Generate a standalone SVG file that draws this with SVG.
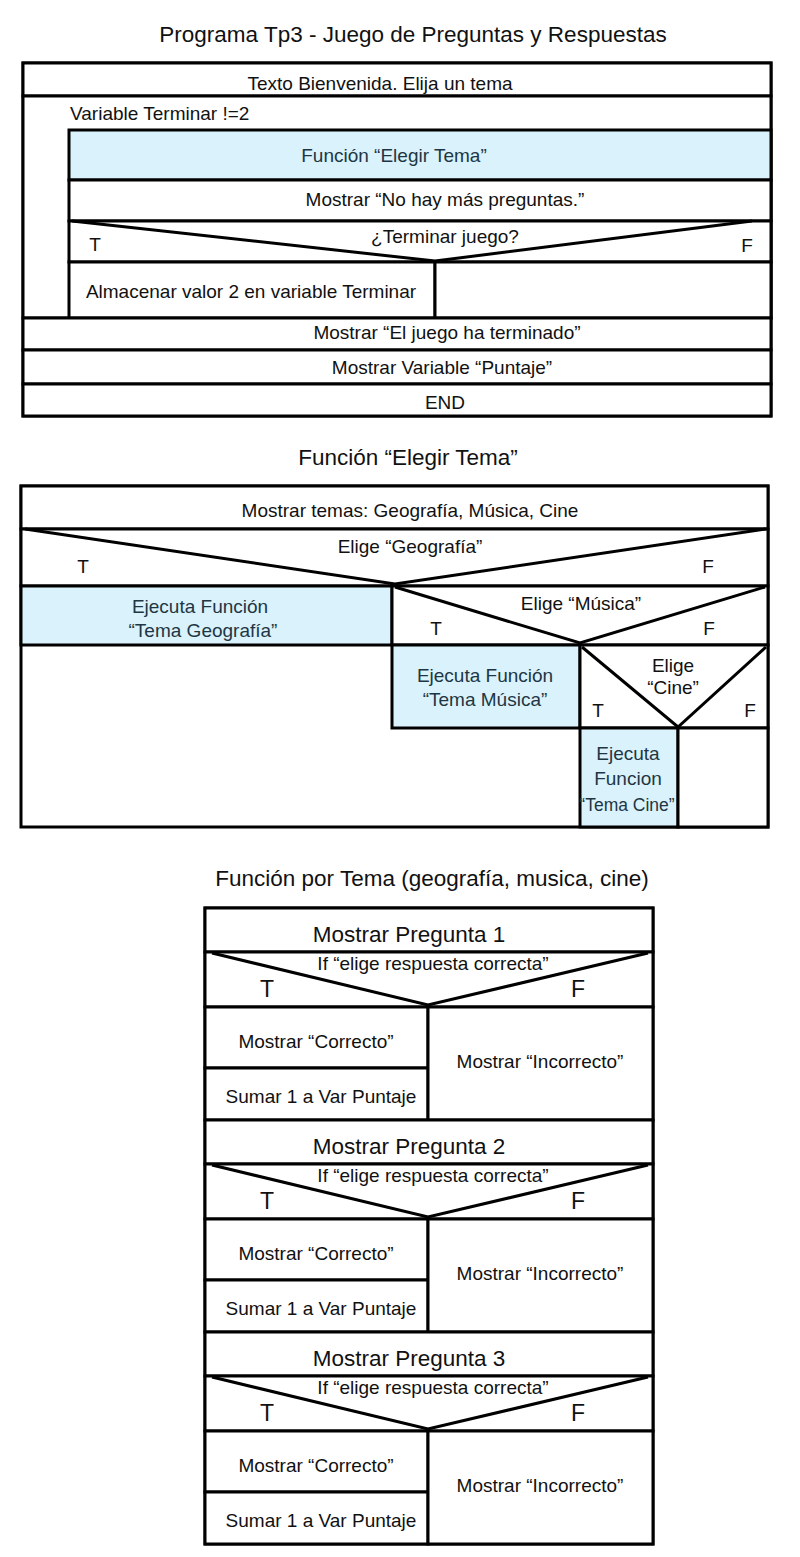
<svg xmlns="http://www.w3.org/2000/svg" width="800" height="1557" viewBox="0 0 800 1557">
<style>
text{font-family:"Liberation Sans",Arial,sans-serif;fill:#111;}
.t{font-size:19px;}
.c{text-anchor:middle;}
.title{font-size:22.5px;text-anchor:middle;}
.box{fill:#fff;stroke:#000;stroke-width:3;}
.blue{fill:#d9f2fb;stroke:#000;stroke-width:3;}
.bt{fill:#1e3644;}
.tri{fill:none;stroke:#000;stroke-width:3;stroke-linejoin:miter;}
.big{font-size:22.5px;}
.tf{font-size:23px;}
.ifq{font-size:19px;}
</style>
<rect width="800" height="1557" fill="#fff"/>

<!-- ===== Section 1 ===== -->
<text class="title" x="413" y="42">Programa Tp3 - Juego de Preguntas y Respuestas</text>
<g id="s1-frame"><rect class="box" x="23" y="63" width="748" height="353"/></g>
<g id="n-bienvenida">
<rect class="box" x="23" y="63" width="748" height="33"/>
<text class="t c" x="380" y="90">Texto Bienvenida. Elija un tema</text>
</g>
<g id="n-loop">
<rect class="box" x="23" y="96" width="748" height="222"/>
<text class="t" x="70" y="120">Variable Terminar !=2</text>
</g>
<g id="n-elegir-tema">
<rect class="blue" x="69" y="130" width="702" height="50"/>
<text class="t c bt" x="394" y="162">Función “Elegir Tema”</text>
</g>
<g id="n-no-hay">
<rect class="box" x="69" y="180" width="702" height="41"/>
<text class="t c" x="445" y="206">Mostrar “No hay más preguntas.”</text>
</g>
<g id="n-terminar">
<rect class="box" x="69" y="221" width="702" height="41"/>
<polyline class="tri" points="72,221 435,261 752,221"/>
<text class="t c" x="445" y="243">¿Terminar juego?</text>
<text class="t c" x="95" y="251">T</text>
<text class="t c" x="747" y="252">F</text>
</g>
<g id="n-almacenar">
<rect class="box" x="69" y="262" width="366" height="56"/>
<text class="t c" x="251" y="298">Almacenar valor 2 en variable Terminar</text>
</g>
<g id="n-falso-vacio"><rect class="box" x="435" y="262" width="336" height="56"/></g>
<g id="n-fin-juego">
<rect class="box" x="23" y="318" width="748" height="32"/>
<text class="t c" x="447" y="339">Mostrar “El juego ha terminado”</text>
</g>
<g id="n-mostrar-puntaje">
<rect class="box" x="23" y="350" width="748" height="34"/>
<text class="t c" x="442" y="374">Mostrar Variable “Puntaje”</text>
</g>
<g id="n-end">
<rect class="box" x="23" y="384" width="748" height="32"/>
<text class="t c" x="445" y="409">END</text>
</g>

<!-- ===== Section 2 ===== -->
<text class="title" x="408" y="465">Función “Elegir Tema”</text>
<g id="s2-frame"><rect class="box" x="21" y="486" width="747" height="341"/></g>
<g id="n-mostrar-temas">
<rect class="box" x="21" y="486" width="747" height="43"/>
<text class="t c" x="410" y="517">Mostrar temas: Geografía, Música, Cine</text>
</g>
<g id="n-elige-geo">
<rect class="box" x="21" y="529" width="747" height="57"/>
<polyline class="tri" points="25,529 395,584 766,529"/>
<text class="t c" x="410" y="553">Elige “Geografía”</text>
<text class="t c" x="83" y="573">T</text>
<text class="t c" x="708" y="573">F</text>
</g>
<g id="n-tema-geo">
<rect class="blue" x="21" y="586" width="371" height="59"/>
<text class="t c bt" x="200" y="613">Ejecuta Función</text>
<text class="t c bt" x="203" y="637">“Tema Geografía”</text>
</g>
<g id="n-elige-musica">
<rect class="box" x="392" y="586" width="376" height="59"/>
<polyline class="tri" points="395,587 580,643 765,587"/>
<text class="t c" x="581" y="610">Elige “Música”</text>
<text class="t c" x="436" y="635">T</text>
<text class="t c" x="709" y="635">F</text>
</g>
<g id="n-tema-musica">
<rect class="blue" x="392" y="645" width="188" height="83"/>
<text class="t c bt" x="485" y="682">Ejecuta Función</text>
<text class="t c bt" x="485" y="706">“Tema Música”</text>
</g>
<g id="n-elige-cine">
<rect class="box" x="580" y="645" width="188" height="83"/>
<polyline class="tri" points="582,647 678,727 766,647"/>
<text class="t c" x="673" y="672">Elige</text>
<text class="t c" x="673" y="694">“Cine”</text>
<text class="t c" x="598" y="717">T</text>
<text class="t c" x="750" y="717">F</text>
</g>
<g id="n-tema-cine">
<rect class="blue" x="580" y="728" width="98" height="99"/>
<text class="t c bt" x="628" y="760">Ejecuta</text>
<text class="t c bt" x="628" y="785">Funcion</text>
<text class="c bt" x="627" y="811" font-size="17.5">“Tema Cine”</text>
</g>
<g id="n-cine-falso"><rect class="box" x="678" y="728" width="90" height="99"/></g>

<!-- ===== Section 3 ===== -->
<text class="title" x="432" y="886" font-size="23.5">Función por Tema (geografía, musica, cine)</text>
<g id="s3-frame"><rect class="box" x="205" y="908" width="448" height="636"/></g>

<g id="n-pregunta-1">
<rect class="box" x="205" y="908" width="448" height="44"/>
<text class="big c" x="409" y="942">Mostrar Pregunta 1</text>
</g>
<g id="n-if-1">
<rect class="box" x="205" y="952" width="448" height="55"/>
<polyline class="tri" points="212,953 428,1005 648,953"/>
<text class="ifq c" x="433" y="970">If “elige respuesta correcta”</text>
<text class="tf c" x="267" y="997">T</text>
<text class="tf c" x="578" y="997">F</text>
</g>
<g id="n-correcto-1">
<rect class="box" x="205" y="1007" width="223" height="61"/>
<text class="t c" x="316" y="1048">Mostrar “Correcto”</text>
</g>
<g id="n-sumar-1">
<rect class="box" x="205" y="1068" width="223" height="52"/>
<text class="t c" x="321" y="1103">Sumar 1 a Var Puntaje</text>
</g>
<g id="n-incorrecto-1">
<rect class="box" x="428" y="1007" width="225" height="113"/>
<text class="t c" x="540" y="1068">Mostrar “Incorrecto”</text>
</g>

<g id="n-pregunta-2">
<rect class="box" x="205" y="1120" width="448" height="44"/>
<text class="big c" x="409" y="1154">Mostrar Pregunta 2</text>
</g>
<g id="n-if-2">
<rect class="box" x="205" y="1164" width="448" height="55"/>
<polyline class="tri" points="212,1165 428,1217 648,1165"/>
<text class="ifq c" x="433" y="1182">If “elige respuesta correcta”</text>
<text class="tf c" x="267" y="1209">T</text>
<text class="tf c" x="578" y="1209">F</text>
</g>
<g id="n-correcto-2">
<rect class="box" x="205" y="1219" width="223" height="61"/>
<text class="t c" x="316" y="1260">Mostrar “Correcto”</text>
</g>
<g id="n-sumar-2">
<rect class="box" x="205" y="1280" width="223" height="52"/>
<text class="t c" x="321" y="1315">Sumar 1 a Var Puntaje</text>
</g>
<g id="n-incorrecto-2">
<rect class="box" x="428" y="1219" width="225" height="113"/>
<text class="t c" x="540" y="1280">Mostrar “Incorrecto”</text>
</g>

<g id="n-pregunta-3">
<rect class="box" x="205" y="1332" width="448" height="44"/>
<text class="big c" x="409" y="1366">Mostrar Pregunta 3</text>
</g>
<g id="n-if-3">
<rect class="box" x="205" y="1376" width="448" height="55"/>
<polyline class="tri" points="212,1377 428,1429 648,1377"/>
<text class="ifq c" x="433" y="1394">If “elige respuesta correcta”</text>
<text class="tf c" x="267" y="1421">T</text>
<text class="tf c" x="578" y="1421">F</text>
</g>
<g id="n-correcto-3">
<rect class="box" x="205" y="1431" width="223" height="61"/>
<text class="t c" x="316" y="1472">Mostrar “Correcto”</text>
</g>
<g id="n-sumar-3">
<rect class="box" x="205" y="1492" width="223" height="52"/>
<text class="t c" x="321" y="1527">Sumar 1 a Var Puntaje</text>
</g>
<g id="n-incorrecto-3">
<rect class="box" x="428" y="1431" width="225" height="113"/>
<text class="t c" x="540" y="1492">Mostrar “Incorrecto”</text>
</g>

<g id="connectors"></g>
</svg>
